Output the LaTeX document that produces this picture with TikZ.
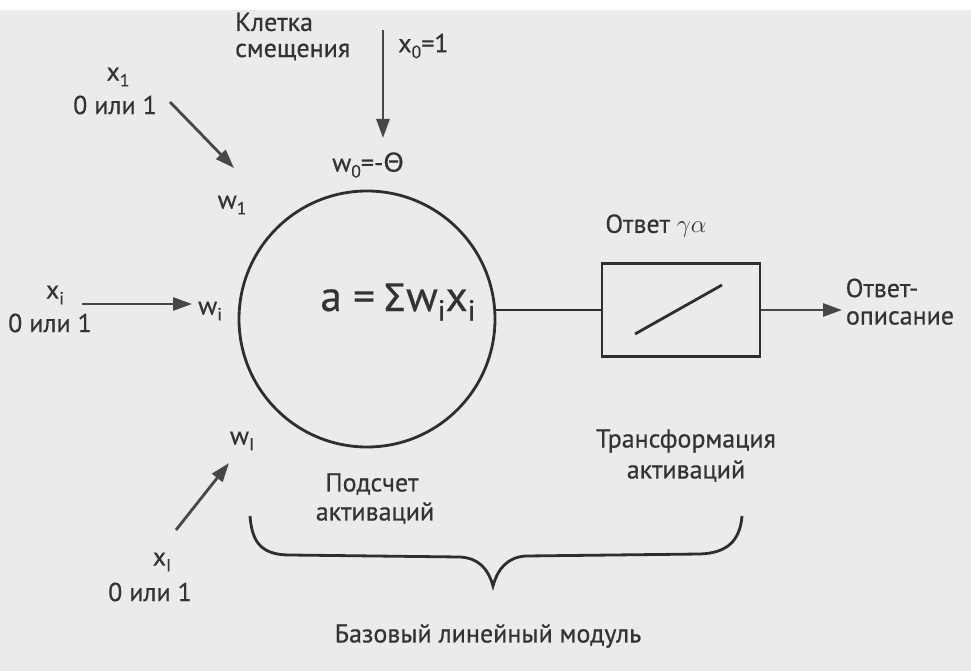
\documentclass[tikz,border=0pt]{standalone}
\usepackage{fontspec}
\setmainfont{PT Sans}
\newfontfamily\lblfont{PT Sans}[FakeBold=0.5]
\newfontfamily\grk{DejaVu Sans}[FakeBold=0.3]
\usetikzlibrary{arrows.meta}
\newcommand{\sbs}[1]{\raisebox{-0.45ex}{\scalebox{0.68}{#1}}}
\begin{document}
\begin{tikzpicture}[x=1pt,y=-1pt,
  lbl/.style={font=\lblfont\fontsize{26}{30}\selectfont, inner sep=0pt, text=black!80},
  arr/.style={line width=2.8pt, draw=black!72, -{Triangle[length=19pt,width=13pt]}},
  ln/.style={line width=2.8pt, draw=black!82}]
\fill[black!8] (0,0) rectangle (971,671);
\fill[white] (0,0) rectangle (971,10);
\useasboundingbox (0,0) rectangle (971,671);
% bias
\node[lbl, anchor=west] (kl) at (235,22) {Клетка};
\node[lbl, anchor=west] (sm) at (235,52) {смещения};
\node[lbl, anchor=west] (x0) at (398,46) {x\sbs{0}=1};
\coordinate (x0s) at (383,30);
\coordinate (x0e) at (383,138);
\draw[arr] (x0s) -- (x0e);
\node[lbl] (w0) at (368,165) {w\sbs{0}=-{\grk Θ}};
% neuron
\node[ln, circle, minimum size=256pt, inner sep=0pt] (c) at (367,319) {};
\node[lbl, font=\lblfont\fontsize{43}{47}\selectfont] (sum) at (398,302) {a =\,{\grk\fontsize{38}{42}\selectfont Σ}w\sbs{i}x\sbs{i}};
% input 1
\node[lbl] (x1) at (118,77) {x\sbs{1}};
\node[lbl] (x1v) at (115,105) {0 или 1};
\coordinate (a1s) at (170,102);
\coordinate (a1e) at (234,168);
\draw[arr] (a1s) -- (a1e);
\node[lbl] (w1) at (232,205) {w\sbs{1}};
% input i
\node[lbl] (xi) at (55,295) {x\sbs{i}};
\node[lbl] (xiv) at (50,323) {0 или 1};
\coordinate (ais) at (82,304);
\coordinate (aie) at (192,304);
\draw[arr] (ais) -- (aie);
\node[lbl] (wi) at (210,311) {w\sbs{i}};
% input I
\node[lbl] (wI) at (242,441) {w\sbs{I}};
\coordinate (aIs) at (176,530);
\coordinate (aIe) at (229,463);
\draw[arr] (aIs) -- (aIe);
\node[lbl] (xI) at (162,562) {x\sbs{I}};
\node[lbl] (xIv) at (150,592) {0 или 1};
% transfer box
\node[ln, minimum width=158pt, minimum height=93pt, inner sep=0pt] (box) at (681,310) {};
\draw[ln] (c.east |- box.west) -- (box.west);
\coordinate (d1) at (635,334);
\coordinate (d2) at (722,285);
\draw[ln] (d1) -- (d2);
\coordinate (outE) at (842,310);
\draw[arr] (box.east) -- (outE);
\node[lbl] (resp) at (656,226) {Ответ $\gamma\alpha$};
\node[lbl] (out1) at (882,288) {Ответ-};
\node[lbl] (out2) at (900,318) {описание};
% captions
\node[lbl] (pod1) at (372,484) {Подсчет};
\node[lbl] (pod2) at (375,513) {активаций};
\node[lbl] (tr1) at (686,441) {Трансформация};
\node[lbl] (tr2) at (686,471) {активаций};
% brace
\coordinate (bl) at (250,516);
\coordinate (bm) at (493,586);
\coordinate (br) at (742,516);
\draw[ln] (bl) .. controls (252,543) and (262,555) .. (290,555) -- (460,557)
  .. controls (478,558) and (488,568) .. (bm)
  .. controls (498,568) and (508,557) .. (526,556) -- (700,554)
  .. controls (728,553) and (740,540) .. (br);
\node[lbl] (base) at (488,636) {Базовый линейный модуль};
\end{tikzpicture}
\end{document}
